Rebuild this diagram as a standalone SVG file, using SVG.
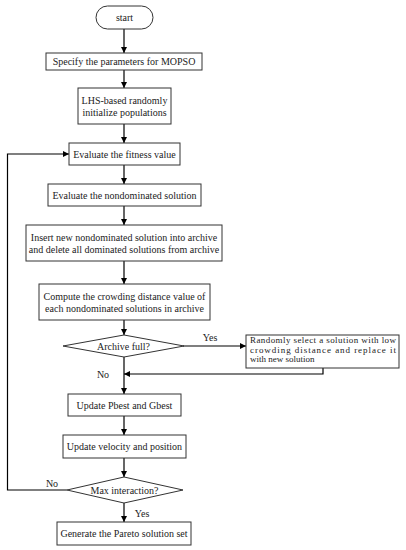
<svg xmlns="http://www.w3.org/2000/svg" width="406" height="550" viewBox="0 0 406 550">
<defs>
<marker id="ah" markerWidth="6" markerHeight="6" refX="6" refY="3" orient="auto" markerUnits="userSpaceOnUse">
<path d="M0,0 L6,3 L0,6 Z" fill="#000"/>
</marker>
<style>
.box{fill:#fff;stroke:#333;stroke-width:1}
.t{font-family:"Liberation Serif","Times New Roman",serif;font-size:10px;fill:#222;text-anchor:middle;dominant-baseline:central}
.s{font-family:"Liberation Serif","Times New Roman",serif;font-size:9px;fill:#222}
.c{fill:none;stroke:#000;stroke-width:1.2}
</style>
</defs>
<rect width="406" height="550" fill="#fff"/>
<g id="connectors">
<line class="c" x1="124" y1="29" x2="124" y2="53" marker-end="url(#ah)"/>
<line class="c" x1="124" y1="70" x2="124" y2="88" marker-end="url(#ah)"/>
<line class="c" x1="124" y1="124" x2="124" y2="143" marker-end="url(#ah)"/>
<line class="c" x1="124" y1="165" x2="124" y2="184" marker-end="url(#ah)"/>
<line class="c" x1="124" y1="206" x2="124" y2="225" marker-end="url(#ah)"/>
<line class="c" x1="124" y1="261" x2="124" y2="284" marker-end="url(#ah)"/>
<line class="c" x1="124" y1="320" x2="124" y2="335" marker-end="url(#ah)"/>
<line class="c" x1="183" y1="346" x2="246" y2="346" marker-end="url(#ah)"/>
<polyline class="c" points="323,368 323,374 124,374" marker-end="url(#ah)"/>
<line class="c" x1="124" y1="357" x2="124" y2="394" marker-end="url(#ah)"/>
<line class="c" x1="124" y1="416" x2="124" y2="435" marker-end="url(#ah)"/>
<line class="c" x1="124" y1="458" x2="124" y2="477" marker-end="url(#ah)"/>
<line class="c" x1="124" y1="503" x2="124" y2="522" marker-end="url(#ah)"/>
<polyline class="c" points="67,490 7.5,490 7.5,154 69,154" marker-end="url(#ah)"/>
<text class="t" x="210" y="337">Yes</text>
<text class="t" x="103" y="374">No</text>
<text class="t" x="52" y="483">No</text>
<text class="t" x="142" y="513">Yes</text>
</g>
<g id="start">
<rect class="box" x="96" y="6" width="57" height="23" rx="11.5"/>
<text class="t" x="124.5" y="17.5">start</text>
</g>
<g id="specify">
<rect class="box" x="46" y="53" width="156" height="17"/>
<text class="t" x="124" y="61.5">Specify the parameters for MOPSO</text>
</g>
<g id="lhs">
<rect class="box" x="78" y="88" width="93" height="36"/>
<text class="t" x="124.5" y="100">LHS-based randomly</text>
<text class="t" x="124.5" y="112.5">initialize populations</text>
</g>
<g id="fitness">
<rect class="box" x="69" y="143" width="111" height="22"/>
<text class="t" x="124.5" y="154">Evaluate the fitness value</text>
</g>
<g id="nondominated">
<rect class="box" x="48" y="184" width="153" height="22"/>
<text class="t" x="124.5" y="195">Evaluate the nondominated solution</text>
</g>
<g id="insert">
<rect class="box" x="26" y="225" width="196" height="36"/>
<text class="t" x="124" y="237">Insert new nondominated solution into archive</text>
<text class="t" x="124" y="249.5">and delete all dominated solutions from archive</text>
</g>
<g id="compute">
<rect class="box" x="39" y="284" width="171" height="36"/>
<text class="t" x="124.5" y="296">Compute the crowding distance value of</text>
<text class="t" x="124.5" y="308.5">each nondominated solutions in archive</text>
</g>
<g id="archive-full">
<polygon class="box" points="63,346 124,335 184,346 124,357"/>
<text class="t" x="123.5" y="346">Archive full?</text>
</g>
<g id="replace">
<rect class="box" x="246" y="335" width="153" height="33"/>
<text class="s" x="250" y="343" textLength="146" lengthAdjust="spacing">Randomly select a solution with low</text>
<text class="s" x="250" y="352.5" textLength="146" lengthAdjust="spacing">crowding distance and replace it</text>
<text class="s" x="250" y="362">with new solution</text>
</g>
<g id="update-best">
<rect class="box" x="68" y="394" width="113" height="22"/>
<text class="t" x="124.5" y="405">Update Pbest and Gbest</text>
</g>
<g id="update-velocity">
<rect class="box" x="63" y="435" width="123" height="23"/>
<text class="t" x="124.5" y="446.5">Update velocity and position</text>
</g>
<g id="max-iter">
<polygon class="box" points="67,490 124,477 183,490 124,503"/>
<text class="t" x="124.5" y="490">Max interaction?</text>
</g>
<g id="generate">
<rect class="box" x="57" y="522" width="134" height="23"/>
<text class="t" x="124" y="533.5">Generate the Pareto solution set</text>
</g>
</svg>
